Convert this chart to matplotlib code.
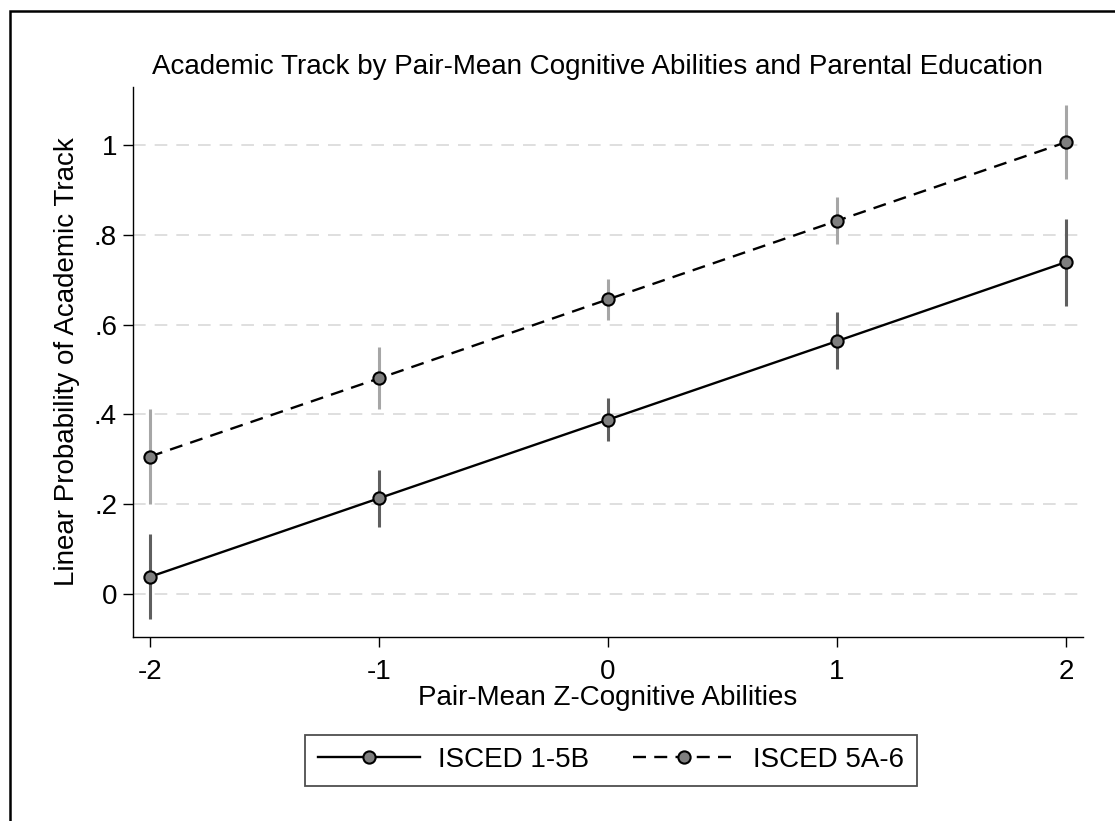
import matplotlib
matplotlib.use("Agg")
import matplotlib.pyplot as plt
from matplotlib.patches import Rectangle
import numpy as np

plt.rcParams["font.family"] = ["Liberation Sans", "DejaVu Sans"]

# pair-mean z-cognitive abilities
z = [-2, -1, 0, 1, 2]

# ISCED 1-5B: point estimates and 95% CI
low_ed = [0.038, 0.213, 0.388, 0.563, 0.739]
low_lo = [-0.056, 0.150, 0.340, 0.500, 0.642]
low_hi = [0.134, 0.276, 0.436, 0.627, 0.834]

# ISCED 5A-6
high_ed = [0.306, 0.480, 0.656, 0.831, 1.006]
high_lo = [0.200, 0.411, 0.610, 0.779, 0.924]
high_hi = [0.411, 0.551, 0.701, 0.884, 1.089]

yticks = [0, 0.2, 0.4, 0.6, 0.8, 1.0]
ytick_labels = ["0", ".2", ".4", ".6", ".8", "1"]
xticks = [-2, -1, 0, 1, 2]

FS = 20
W, H = 1115, 821
fig = plt.figure(figsize=(W / 100, H / 100), dpi=100, facecolor="white")
ax = fig.add_axes([133 / W, 1 - 637 / H, (1083 - 133) / W, (637 - 87) / H])

# grid
for yv in yticks:
    ax.axhline(yv, color="#dcdcdc", lw=1.3, ls=(0, (7, 5)), zorder=0)

# confidence spikes
ax.vlines(z, low_lo, low_hi, color="#5f5f5f", lw=2.2, zorder=1)
ax.vlines(z, high_lo, high_hi, color="#a6a6a6", lw=2.2, zorder=1)

mk = dict(marker="o", ms=8.8, mfc="#7f7f7f", mec="black", mew=1.5)
l1, = ax.plot(z, low_ed, color="black", lw=1.7, ls="-", zorder=3, label="ISCED 1-5B", **mk)
l2, = ax.plot(z, high_ed, color="black", lw=1.7, ls=(0, (5.5, 3.5)), zorder=3,
              label="ISCED 5A-6", **mk)

ax.set_xlim(-2.074, 2.074)
ax.set_ylim(-0.096, 1.129)
ax.set_yticks(yticks)
ax.set_yticklabels(ytick_labels)
ax.set_xticks(xticks)
ax.set_xticklabels(["-2", "-1", "0", "1", "2"])
for s in ["top", "right"]:
    ax.spines[s].set_visible(False)
for s in ["left", "bottom"]:
    ax.spines[s].set_linewidth(1.0)
ax.tick_params(axis="both", length=7.5, width=1.0, labelsize=FS, direction="out")
ax.tick_params(axis="y", pad=4)
ax.tick_params(axis="x", pad=8)

fig.text(597 / W, 1 - 67 / H, "Academic Track by Pair-Mean Cognitive Abilities and Parental Education",
         ha="center", va="center", fontsize=FS)
fig.text(608 / W, 1 - 698 / H, "Pair-Mean Z-Cognitive Abilities", ha="center", va="center", fontsize=FS)
fig.text(67 / W, 1 - 362 / H, "Linear Probability of Academic Track", ha="center", va="center",
         rotation=90, fontsize=FS)

leg = fig.legend(handles=[l1, l2], loc="center", bbox_to_anchor=(611 / W, 1 - 760 / H),
                 ncol=2, fontsize=FS, frameon=True, fancybox=False, handlelength=3.67,
                 handletextpad=0.65, columnspacing=1.6, borderpad=0.45, numpoints=1)
leg.get_frame().set_edgecolor("#222222")
leg.get_frame().set_linewidth(1.3)

# outer graph border (right/bottom edges lie outside the image)
fig.patches.append(Rectangle((10 / W, -0.2), 1.5, 1.2 - 11 / H, transform=fig.transFigure,
                             fill=False, edgecolor="black", lw=1.8))

fig.savefig("out.png", dpi=100, facecolor="white")
